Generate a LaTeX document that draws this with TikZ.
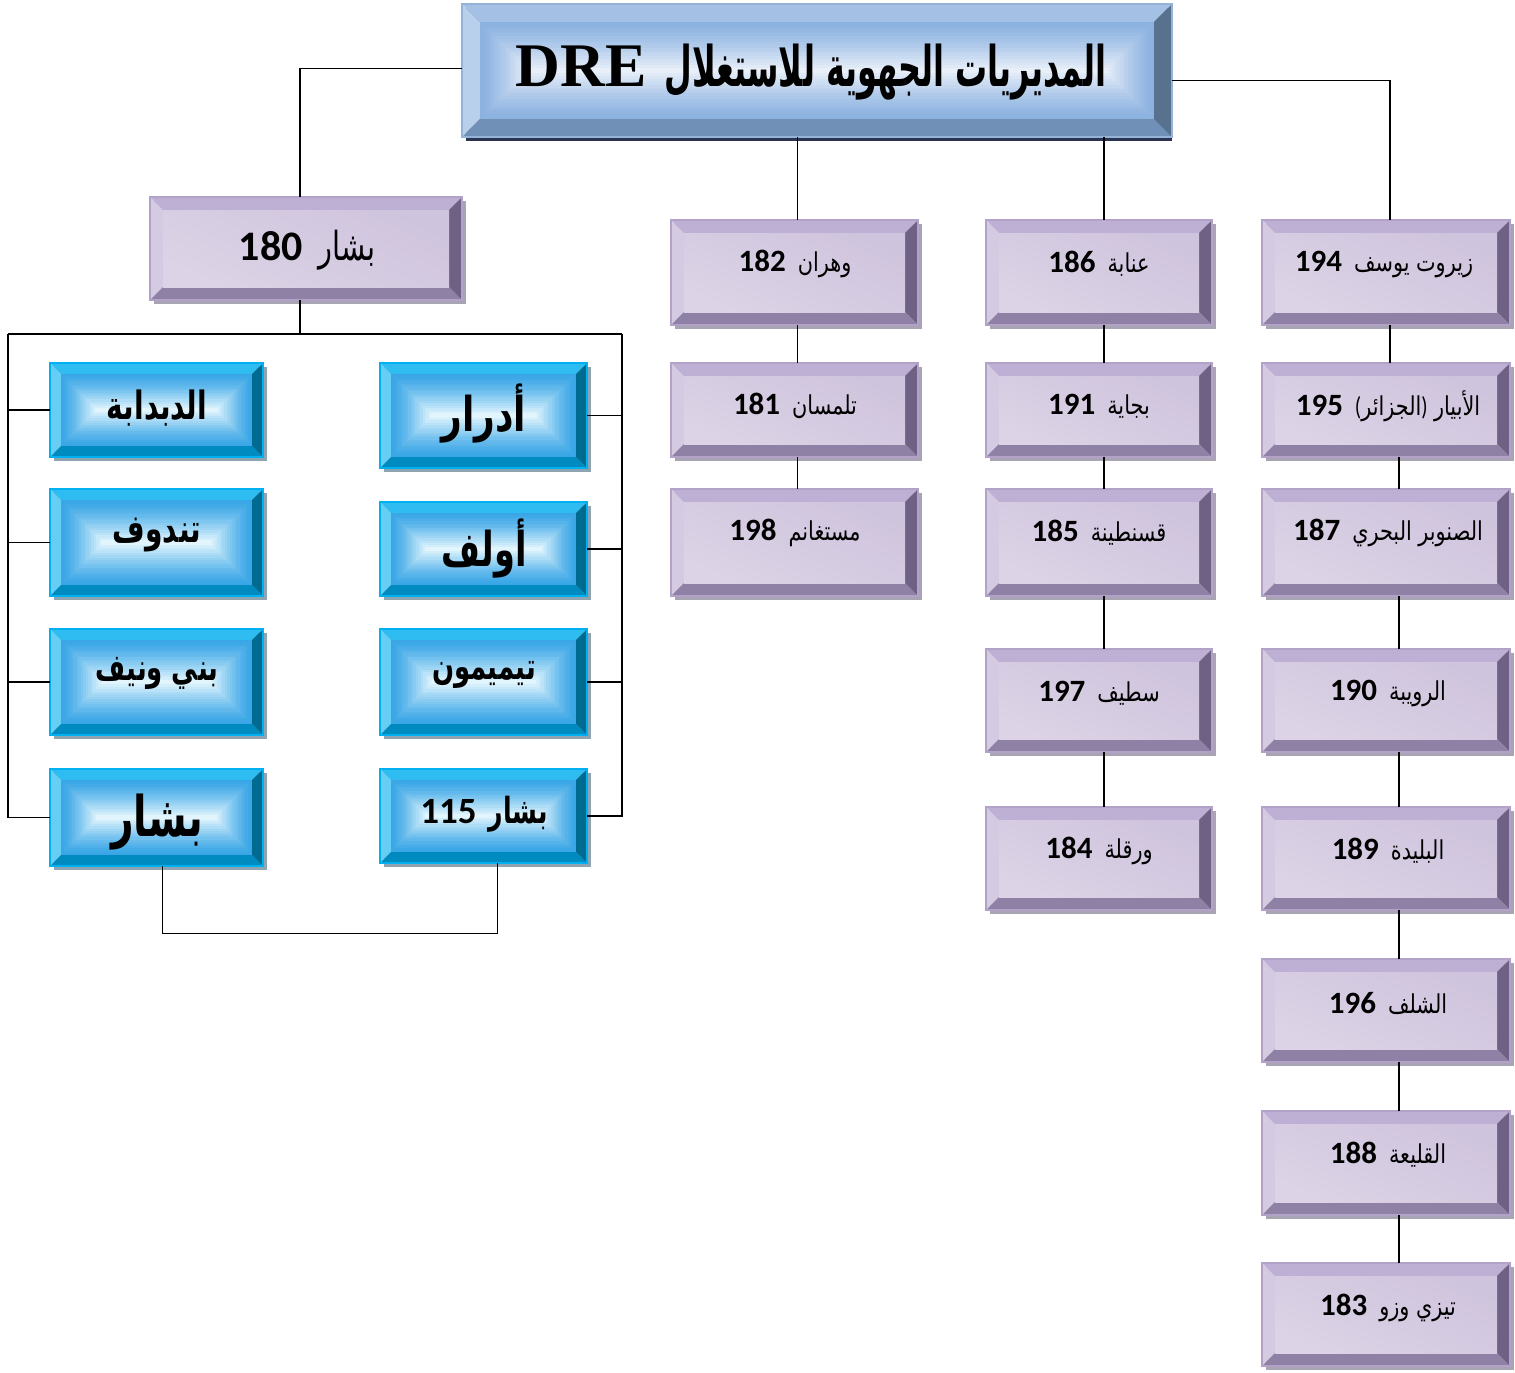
\documentclass[tikz,border=0pt]{standalone}
\usepackage{fontspec}
\usepackage{graphicx}
\usetikzlibrary{calc,fit}
\TeXXeTstate=1
\newfontfamily\arabicfont[Script=Arabic]{DejaVu Sans}
\newfontfamily\numfont{Carlito}
\newfontfamily\latinserif{Liberation Serif}

% palettes: P = lavender boxes, B = cyan boxes, T = header box
\definecolor{Pborder}{HTML}{B3A2C7}
\definecolor{Ptop}{HTML}{BDB0D4}
\definecolor{Pleft}{HTML}{D4CBE2}
\definecolor{Pright}{HTML}{6E6184}
\definecolor{Pbottom}{HTML}{8F80A6}
\definecolor{Pshadow}{HTML}{A9A4B3}
\definecolor{Pfl}{HTML}{E6E0EE}
\definecolor{Pfd}{HTML}{CFC4DD}
\definecolor{Pfb}{HTML}{DCD3E6}

\definecolor{Bborder}{HTML}{00B0F0}
\definecolor{Btop}{HTML}{2FBDF1}
\definecolor{Bleft}{HTML}{66CDF5}
\definecolor{Bright}{HTML}{006B91}
\definecolor{Bbottom}{HTML}{008BC0}
\definecolor{Bshadow}{HTML}{8EA5B1}
\definecolor{Bfe}{HTML}{3AA6E6}
\definecolor{Bfc}{HTML}{E2F5FD}

\definecolor{Tborder}{HTML}{95B3D7}
\definecolor{Ttop}{HTML}{A4C0E4}
\definecolor{Tleft}{HTML}{B9D0EC}
\definecolor{Tright}{HTML}{58718F}
\definecolor{Tbottom}{HTML}{7190B8}
\definecolor{Tshadow}{HTML}{2A3452}
\definecolor{Tfe}{HTML}{8CB2E0}
\definecolor{Tfc}{HTML}{E8EFF9}

% how far each palette's drop shadow reaches past the right edge
\def\Pshx{4}\def\Bshx{4}\def\Tshx{0}

% label helpers
\newcommand\plbl[2]{{\numfont\bfseries\fontsize{15.5}{17}\selectfont #1}\hspace{6pt}\scalebox{0.8}[1]{\arabicfont\fontsize{13}{15}\selectfont #2}}
\newcommand\blbl[3]{\scalebox{#1}[1]{\arabicfont\bfseries\fontsize{#2}{#2}\selectfont #3}}

% rectangular gradient: edge colour #1, centre colour #2, face corners (#3,#4)-(#5,#6)
\newcommand\rectgrad[6]{%
  \pgfmathsetmacro\gstep{((#6)-(#4))/2/17}%
  \foreach \i in {0,...,16}{%
    \pgfmathtruncatemacro\pc{100*(\i/16)^1.3}%
    \fill[#2!\pc!#1] (#3+\i*\gstep,#4+\i*\gstep) rectangle (#5-\i*\gstep,#6-\i*\gstep);
  }%
}
\newcommand\faceP[4]{\shade[top color=Pfd, middle color=Pfl, bottom color=Pfb, shading angle=-25] (#1,#2) rectangle (#3,#4);}
\newcommand\faceB[4]{\rectgrad{Bfe}{Bfc}{#1}{#2}{#3}{#4}}
\newcommand\faceT[4]{\rectgrad{Tfe}{Tfc}{#1}{#2}{#3}{#4}}

% bevelled box: palette, name, x1, y1, x2, y2, bevel width
\newcommand\bevelbox[7]{%
  \fill[#1shadow] (#3+4,#4+4) rectangle (#5+\csname #1shx\endcsname,#6+4);
  \fill[#1top] (#3,#4) -- (#5,#4) -- (#5-#7,#4+#7) -- (#3+#7,#4+#7) -- cycle;
  \fill[#1left] (#3,#4) -- (#3+#7,#4+#7) -- (#3+#7,#6-#7) -- (#3,#6) -- cycle;
  \fill[#1right] (#5,#4) -- (#5,#6) -- (#5-#7,#6-#7) -- (#5-#7,#4+#7) -- cycle;
  \fill[#1bottom] (#3,#6) -- (#3+#7,#6-#7) -- (#5-#7,#6-#7) -- (#5,#6) -- cycle;
  \csname face#1\endcsname{#3+#7}{#4+#7}{#5-#7}{#6-#7}
  \draw[#1border, line width=0.6pt] (#3,#4) rectangle (#5,#6);
  \node[fit={(#3,#4) (#5,#6)}, inner sep=0pt] (#2) {};
}

\tikzset{
  conn/.style={draw=black, line width=0.9pt},
  ptxt/.style={inner sep=0pt},
  btxt/.style={inner sep=0pt},
}

\begin{document}
\begin{tikzpicture}[x=0.5pt, y=-0.5pt]
\fill[white] (0,0) rectangle (1515,1372);
\useasboundingbox (0,0) rectangle (1515,1372);

% header
\bevelbox{T}{title}{462}{4}{1172}{137}{18}
\node[inner sep=0pt] (titletxt) at (811,72)
  {{\latinserif\bfseries\fontsize{31}{33}\selectfont DRE}\hspace{9pt}\scalebox{0.57}[1]{\arabicfont\bfseries\fontsize{28}{30}\selectfont\beginR المديريات الجهوية للاستغلال\endR}};

% Bechar branch
\bevelbox{P}{b180}{150}{197}{462}{300}{13}
\node[ptxt] (b180t) at (307,250) {{\numfont\bfseries\fontsize{21}{23}\selectfont 180}\hspace{8pt}\scalebox{0.72}[1]{\arabicfont\fontsize{20}{22}\selectfont\beginR بشار\endR}};

\bevelbox{B}{l1}{50}{363}{263}{457}{11}
\bevelbox{B}{l2}{50}{489}{263}{596}{11}
\bevelbox{B}{l3}{50}{629}{263}{735}{11}
\bevelbox{B}{l4}{50}{769}{263}{866}{11}
\bevelbox{B}{r1}{380}{363}{587}{468}{11}
\bevelbox{B}{r2}{380}{502}{587}{596}{11}
\bevelbox{B}{r3}{380}{629}{587}{735}{11}
\bevelbox{B}{r4}{380}{769}{587}{863}{11}

\node[btxt] (l1t) at (157,408) {\blbl{0.72}{19.5}{\beginR الدبدابة\endR}};
\node[btxt] (r1t) at (484,414) {\blbl{0.75}{24}{\beginR أدرار\endR}};
\node[btxt] (l2t) at (157,535) {\blbl{0.72}{19.5}{\beginR تندوف\endR}};
\node[btxt] (r2t) at (484,549) {\blbl{0.7}{24}{\beginR أولف\endR}};
\node[btxt] (l3t) at (157,673) {\blbl{0.7}{18.5}{\beginR بني ونيف\endR}};
\node[btxt] (r3t) at (484,675) {\blbl{0.7}{18.5}{\beginR تيميمون\endR}};
\node[btxt] (l4t) at (157,822) {\blbl{0.7}{28}{\beginR بشار\endR}};
\node[btxt] (r4t) at (484,814) {{\numfont\bfseries\fontsize{18.5}{20}\selectfont 115}\hspace{6pt}\blbl{0.7}{18}{\beginR بشار\endR}};

% western column
\bevelbox{P}{a1}{671}{220}{918}{325}{13}
\bevelbox{P}{a2}{671}{363}{918}{457}{13}
\bevelbox{P}{a3}{671}{489}{918}{596}{13}
\node[ptxt] (a1t) at (795,264) {\plbl{182}{\beginR وهران\endR}};
\node[ptxt] (a2t) at (795,406) {\plbl{181}{\beginR تلمسان\endR}};
\node[ptxt] (a3t) at (795,533) {\plbl{198}{\beginR مستغانم\endR}};

% eastern column
\bevelbox{P}{e1}{986}{220}{1212}{325}{13}
\bevelbox{P}{e2}{986}{363}{1212}{457}{13}
\bevelbox{P}{e3}{986}{489}{1212}{596}{13}
\bevelbox{P}{e4}{986}{649}{1212}{752}{13}
\bevelbox{P}{e5}{986}{807}{1212}{910}{13}
\node[ptxt] (e1t) at (1099,264) {\plbl{186}{\beginR عنابة\endR}};
\node[ptxt] (e2t) at (1099,406) {\plbl{191}{\beginR بجاية\endR}};
\node[ptxt] (e3t) at (1099,533) {\plbl{185}{\beginR قسنطينة\endR}};
\node[ptxt] (e4t) at (1099,693) {\plbl{197}{\beginR سطيف\endR}};
\node[ptxt] (e5t) at (1099,851) {\plbl{184}{\beginR ورقلة\endR}};

% central column
\bevelbox{P}{c1}{1262}{220}{1510}{325}{13}
\bevelbox{P}{c2}{1262}{363}{1510}{457}{13}
\bevelbox{P}{c3}{1262}{489}{1510}{596}{13}
\bevelbox{P}{c4}{1262}{649}{1510}{752}{13}
\bevelbox{P}{c5}{1262}{807}{1510}{910}{13}
\bevelbox{P}{c6}{1262}{959}{1510}{1062}{13}
\bevelbox{P}{c7}{1262}{1111}{1510}{1215}{13}
\bevelbox{P}{c8}{1262}{1263}{1510}{1366}{13}
\node[ptxt] (c1t) at (1384,264) {\plbl{194}{\beginR زيروت يوسف\endR}};
\node[ptxt] (c2t) at (1388,406) {\plbl{195}{{\numfont(}\beginR الجزائر\endR{\numfont)}\hspace{4pt}\beginR الأبيار\endR}};
\node[ptxt] (c3t) at (1388,533) {\plbl{187}{\beginR الصنوبر البحري\endR}};
\node[ptxt] (c4t) at (1388,693) {\plbl{190}{\beginR الرويبة\endR}};
\node[ptxt] (c5t) at (1388,851) {\plbl{189}{\beginR البليدة\endR}};
\node[ptxt] (c6t) at (1388,1003) {\plbl{196}{\beginR الشلف\endR}};
\node[ptxt] (c7t) at (1388,1155) {\plbl{188}{\beginR القليعة\endR}};
\node[ptxt] (c8t) at (1388,1308) {\plbl{183}{\beginR تيزي وزو\endR}};

% connectors from the header
\draw[conn] ([yshift=1pt]title.west) -| ($(b180.north)+(-6,0)$);
\draw[conn] ([yshift=-5pt]title.east) -| ($(c1.north)+(4,0)$);
\draw[conn] ($(title.south -| a1.north)+(3,0)$) -- ($(a1.north)+(3,0)$);
\draw[conn] ($(title.south -| e1.north)+(5,0)$) -- ($(e1.north)+(5,0)$);

% western chain
\draw[conn] ($(a1.south)+(3,0)$) -- ($(a2.north)+(3,0)$);
\draw[conn] ($(a2.south)+(3,0)$) -- ($(a3.north)+(3,0)$);

% eastern chain
\draw[conn] ($(e1.south)+(5,0)$) -- ($(e2.north)+(5,0)$);
\draw[conn] ($(e2.south)+(5,0)$) -- ($(e3.north)+(5,0)$);
\draw[conn] ($(e3.south)+(5,0)$) -- ($(e4.north)+(5,0)$);
\draw[conn] ($(e4.south)+(5,0)$) -- ($(e5.north)+(5,0)$);

% central chain
\draw[conn] ($(c1.south)+(4,0)$) -- ($(c2.north)+(4,0)$);
\draw[conn] ($(c2.south)+(13,0)$) -- ($(c3.north)+(13,0)$);
\draw[conn] ($(c3.south)+(13,0)$) -- ($(c4.north)+(13,0)$);
\draw[conn] ($(c4.south)+(13,0)$) -- ($(c5.north)+(13,0)$);
\draw[conn] ($(c5.south)+(13,0)$) -- ($(c6.north)+(13,0)$);
\draw[conn] ($(c6.south)+(13,0)$) -- ($(c7.north)+(13,0)$);
\draw[conn] ($(c7.south)+(13,0)$) -- ($(c8.north)+(13,0)$);

% Bechar bus
\coordinate (busL) at (8,334);
\coordinate (busR) at (622,334);
\coordinate (b180s) at ($(b180.south)+(-6,0)$);
\draw[conn] (b180s) -- (b180s |- busL);
\draw[conn] (busL) -- (busR);
\draw[conn] (busL) |- (l4.west);
\draw[conn] (busL |- l1.west) -- (l1.west);
\draw[conn] (busL |- l2.west) -- (l2.west);
\draw[conn] (busL |- l3.west) -- (l3.west);
\draw[conn] (busR) |- (r4.east);
\draw[conn] (busR |- r1.east) -- (r1.east);
\draw[conn] (busR |- r2.east) -- (r2.east);
\draw[conn] (busR |- r3.east) -- (r3.east);

% link between the two Bechar boxes
\coordinate (lowL) at ($(l4.south)+(6,0)$);
\coordinate (lowR) at ($(r4.south)+(14,0)$);
\draw[conn] (lowL) -- ++(0,67) -| (lowR);
\end{tikzpicture}
\end{document}
